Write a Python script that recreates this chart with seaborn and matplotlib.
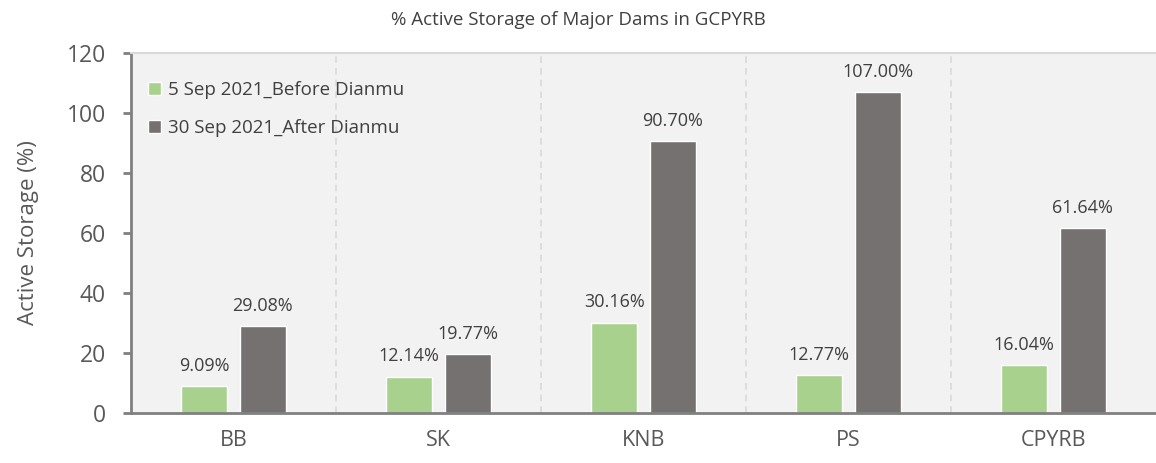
import pandas as pd
import numpy as np
import matplotlib
matplotlib.use("Agg")
import matplotlib.pyplot as plt
import seaborn as sns

# data
dams = ["BB", "SK", "KNB", "PS", "CPYRB"]
before = [9.09, 12.14, 30.16, 12.77, 16.04]
after = [29.08, 19.77, 90.70, 107.00, 61.64]
series = ["5 Sep 2021_Before Dianmu", "30 Sep 2021_After Dianmu"]
y_ticks = [0, 20, 40, 60, 80, 100, 120]

df = pd.DataFrame({
    "dam": dams * 2,
    "storage": before + after,
    "period": [series[0]] * len(dams) + [series[1]] * len(dams),
})

sns.set_style("white")
plt.rcParams["font.family"] = ["Open Sans", "DejaVu Sans"]

fig = plt.figure(figsize=(11.56, 4.63), dpi=100)
ax = fig.add_axes([131 / 1156, 50 / 463, 1 - 131 / 1156, 360 / 463])
ax.set_facecolor("#f2f2f2")

sns.barplot(data=df, x="dam", y="storage", hue="period", hue_order=series,
            palette=["#a9d18e", "#767171"], width=0.57, gap=0.21,
            saturation=1, ax=ax)

# value labels
for cont in ax.containers:
    labels = [f"{v:.2f}%" for v in cont.datavalues]
    ax.bar_label(cont, labels=labels, padding=8, fontsize=13, color="#404040")

# dashed separators between dams
for xb in np.arange(0.5, len(dams) - 0.5, 1):
    ax.axvline(xb, color="#d9d9d9", linestyle=(0, (4, 3)), linewidth=1.2, zorder=0)

ax.set_xlim(-0.5, len(dams) - 0.5)
ax.set_ylim(0, 120)
ax.set_yticks(y_ticks)
ax.set_xticks(range(len(dams)))
ax.set_xticks(np.arange(-0.5, len(dams), 1), minor=True)
ax.tick_params(axis="x", which="major", length=0, pad=12, labelsize=15.5, labelcolor="#595959")
ax.tick_params(axis="x", which="minor", length=6, width=2, color="#808080", direction="out")
ax.tick_params(axis="y", length=6, width=2, color="#808080", direction="out",
               labelsize=16.5, labelcolor="#595959", left=True, pad=12)

for side in ["left", "bottom"]:
    ax.spines[side].set_color("#808080")
    ax.spines[side].set_linewidth(2)
ax.spines["top"].set_color("#d9d9d9")
ax.spines["top"].set_linewidth(1.5)
ax.spines["right"].set_visible(False)

ax.set_xlabel("")
ax.set_ylabel("Active Storage (%)", fontsize=16, color="#595959", labelpad=20)

ax.legend(loc="upper left", frameon=False, fontsize=13.5, handlelength=0.7,
          handleheight=0.7, labelspacing=1.1, bbox_to_anchor=(0.0, 0.97),
          labelcolor="#404040", handletextpad=0.4)

fig.text(0.5, 1 - 20 / 463, "% Active Storage of Major Dams in GCPYRB",
         ha="center", va="center", fontsize=13.5, color="#404040")

plt.savefig("out.png", dpi=100)
